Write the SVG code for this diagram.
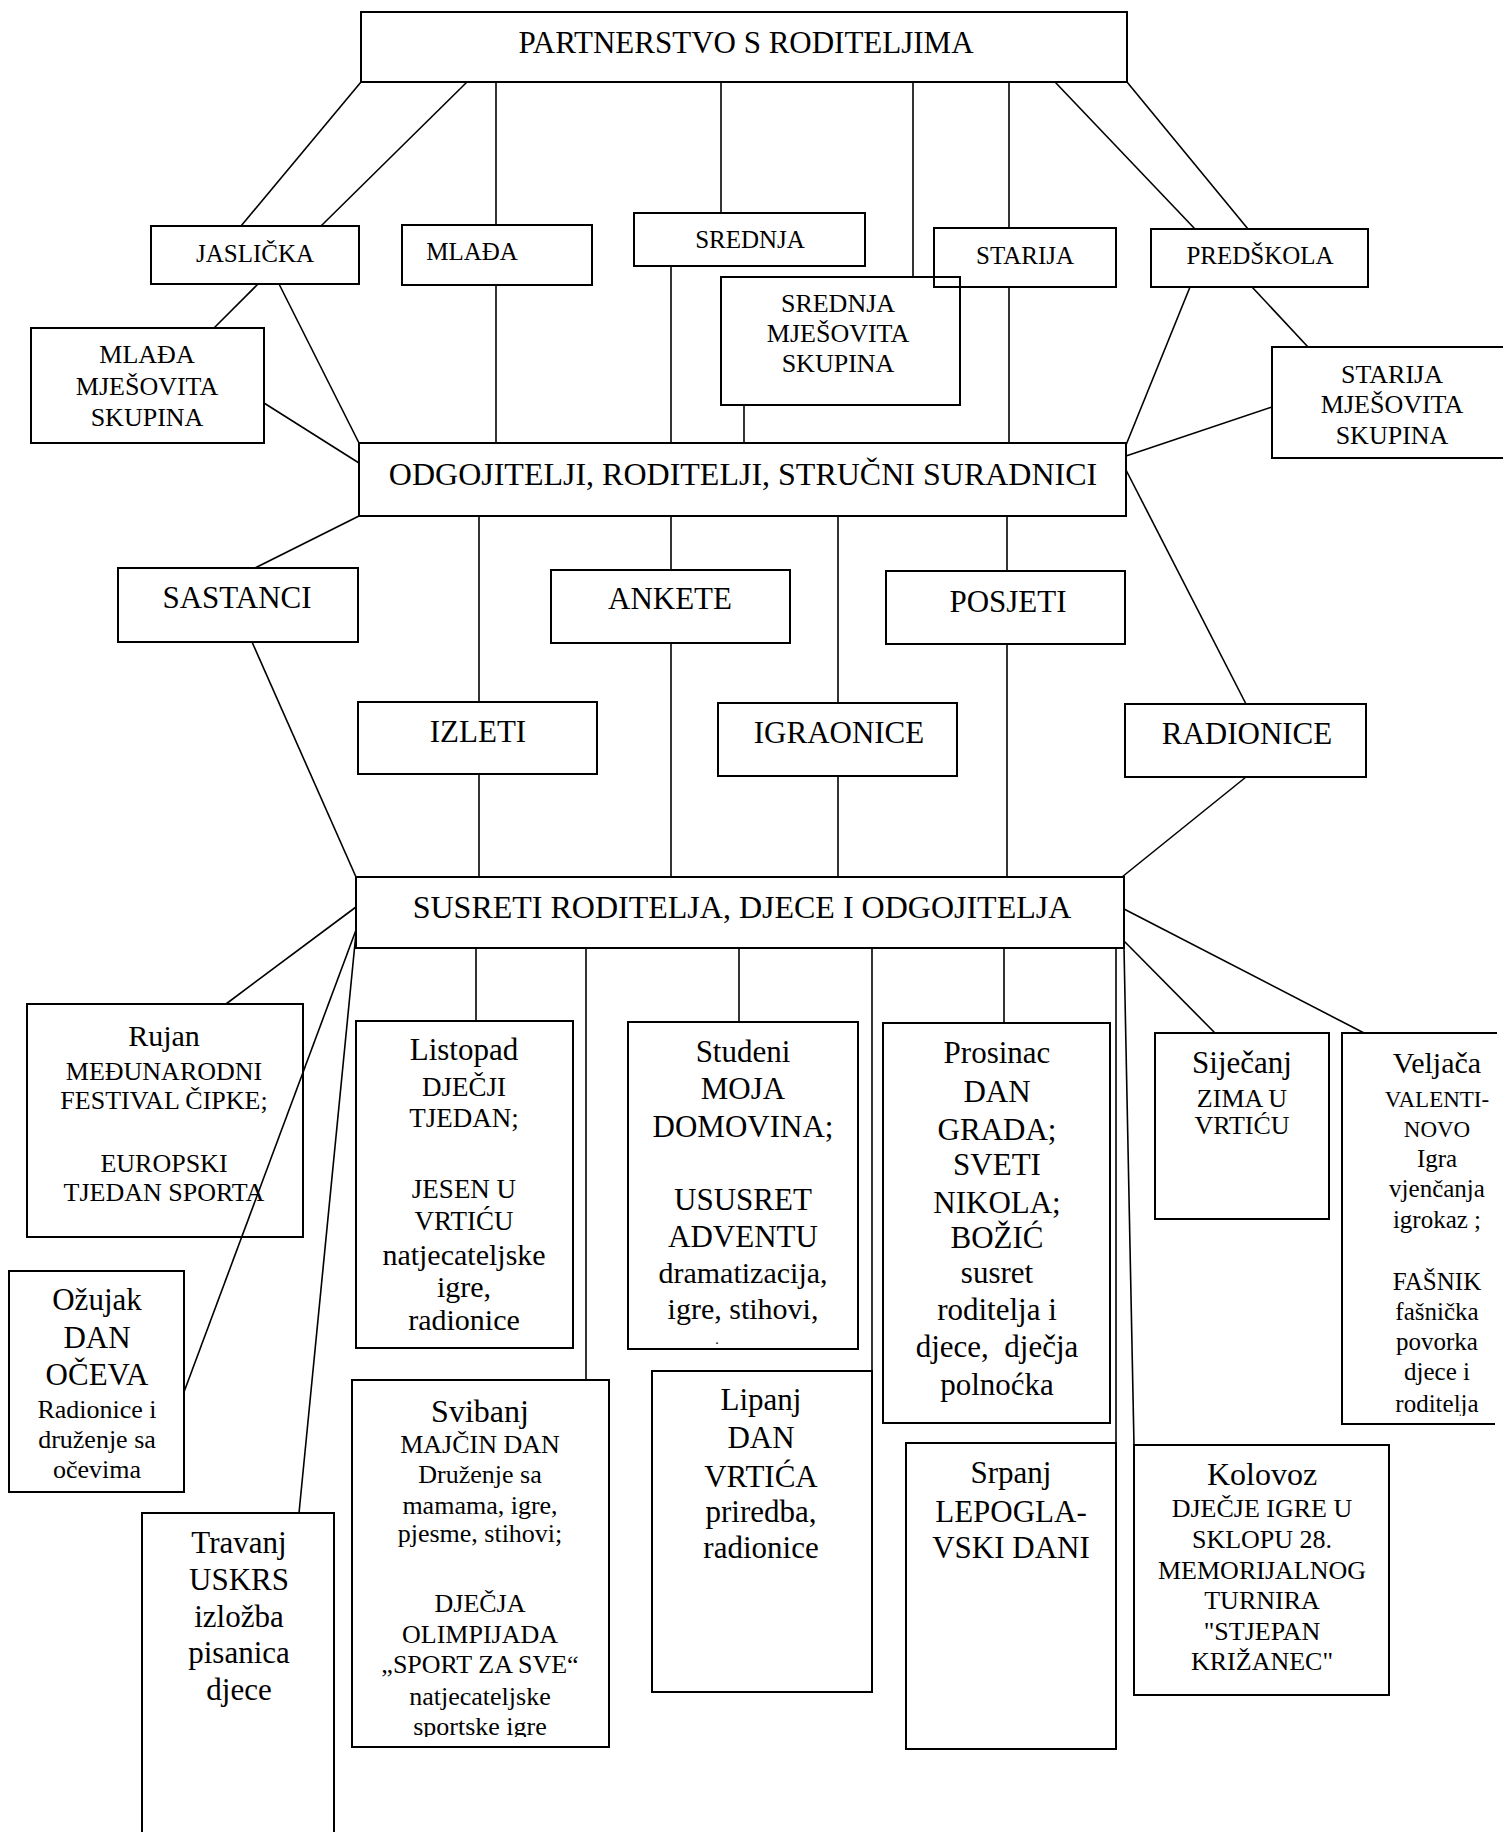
<svg xmlns="http://www.w3.org/2000/svg" width="1508" height="1832" viewBox="0 0 1508 1832">
<style>
.box{fill:none;stroke:#000;stroke-width:2}
.ln{fill:none;stroke:#000;stroke-width:1.6}
text{font-family:"Liberation Serif","Times New Roman",serif;fill:#000;text-anchor:middle}
.f14{font-size:14px}.f23{font-size:23px}.f25{font-size:25px}.f26{font-size:26px}.f27{font-size:27px}.f30{font-size:30px}.f31{font-size:31px}.f32{font-size:32px}
</style>
<defs>
<clipPath id="clipSvibanj"><rect x="352" y="1380" width="257" height="357"/></clipPath>
<clipPath id="clipVeljaca"><rect x="1342" y="1033" width="166" height="383"/></clipPath>
</defs>
<rect width="1508" height="1832" fill="#fff"/>

<g id="n-partnerstvo"><rect class="box" x="361" y="12" width="766" height="70"/><text class="f31" x="746" y="53">PARTNERSTVO S RODITELJIMA</text></g>
<g id="n-jaslicka"><rect class="box" x="151" y="226" width="208" height="58"/><text class="f25" x="255" y="262">JASLIČKA</text></g>
<g id="n-mlada"><rect class="box" x="402" y="225" width="190" height="60"/><text class="f25" x="472" y="260">MLAĐA</text></g>
<g id="n-srednja"><rect class="box" x="634" y="213" width="231" height="53"/><text class="f25" x="750" y="248">SREDNJA</text></g>
<g id="n-starija"><rect class="box" x="934" y="228" width="182" height="59"/><text class="f25" x="1025" y="264">STARIJA</text></g>
<g id="n-predskola"><rect class="box" x="1151" y="229" width="217" height="58"/><text class="f25" x="1260" y="264">PREDŠKOLA</text></g>
<g id="n-srednja-mjesovita"><rect class="box" x="721" y="277" width="239" height="128"/><text class="f26" x="838"><tspan x="838" y="312">SREDNJA</tspan><tspan x="838" y="342">MJEŠOVITA</tspan><tspan x="838" y="372">SKUPINA</tspan></text></g>
<g id="n-mlada-mjesovita"><rect class="box" x="31" y="328" width="233" height="115"/><text class="f26" x="147"><tspan x="147" y="363">MLAĐA</tspan><tspan x="147" y="395">MJEŠOVITA</tspan><tspan x="147" y="426">SKUPINA</tspan></text></g>
<g id="n-starija-mjesovita"><path class="box" d="M1503,347 H1272 V458 H1503"/><text class="f26" x="1392"><tspan x="1392" y="383">STARIJA</tspan><tspan x="1392" y="413">MJEŠOVITA</tspan><tspan x="1392" y="444">SKUPINA</tspan></text></g>

<g id="n-odgojitelji"><rect class="box" x="359" y="443" width="767" height="73"/><text class="f32" x="743" y="485">ODGOJITELJI, RODITELJI, STRUČNI SURADNICI</text></g>
<g id="n-sastanci"><rect class="box" x="118" y="568" width="240" height="74"/><text class="f31" x="237" y="608">SASTANCI</text></g>
<g id="n-ankete"><rect class="box" x="551" y="570" width="239" height="73"/><text class="f31" x="670" y="609">ANKETE</text></g>
<g id="n-posjeti"><rect class="box" x="886" y="571" width="239" height="73"/><text class="f31" x="1008" y="612">POSJETI</text></g>
<g id="n-izleti"><rect class="box" x="358" y="702" width="239" height="72"/><text class="f31" x="478" y="742">IZLETI</text></g>
<g id="n-igraonice"><rect class="box" x="718" y="703" width="239" height="73"/><text class="f31" x="839" y="743">IGRAONICE</text></g>
<g id="n-radionice"><rect class="box" x="1125" y="704" width="241" height="73"/><text class="f31" x="1247" y="744">RADIONICE</text></g>
<g id="n-susreti"><rect class="box" x="356" y="877" width="768" height="71"/><text class="f32" x="742" y="918">SUSRETI RODITELJA, DJECE I ODGOJITELJA</text></g>

<g id="n-rujan"><rect class="box" x="27" y="1004" width="276" height="233"/><text x="164"><tspan class="f30" x="164" y="1046">Rujan</tspan><tspan class="f26" x="164" y="1080">MEĐUNARODNI</tspan><tspan class="f26" x="164" y="1109">FESTIVAL ČIPKE;</tspan><tspan class="f26" x="164" y="1172">EUROPSKI</tspan><tspan class="f26" x="164" y="1201">TJEDAN SPORTA</tspan></text></g>
<g id="n-ozujak"><rect class="box" x="9" y="1271" width="175" height="221"/><text x="97"><tspan class="f31" x="97" y="1310">Ožujak</tspan><tspan class="f31" x="97" y="1348">DAN</tspan><tspan class="f31" x="97" y="1385">OČEVA</tspan><tspan class="f26" x="97" y="1418">Radionice i</tspan><tspan class="f26" x="97" y="1448">druženje sa</tspan><tspan class="f26" x="97" y="1478">očevima</tspan></text></g>
<g id="n-travanj"><path class="box" d="M142,1840 V1513 H334 V1840"/><text class="f31" x="239"><tspan x="239" y="1553">Travanj</tspan><tspan x="239" y="1590">USKRS</tspan><tspan x="239" y="1627">izložba</tspan><tspan x="239" y="1663">pisanica</tspan><tspan x="239" y="1700">djece</tspan></text></g>
<g id="n-listopad"><rect class="box" x="356" y="1021" width="217" height="327"/><text x="464"><tspan class="f31" x="464" y="1060">Listopad</tspan><tspan class="f27" x="464" y="1096">DJEČJI</tspan><tspan class="f27" x="464" y="1127">TJEDAN;</tspan><tspan class="f27" x="464" y="1198">JESEN U</tspan><tspan class="f27" x="464" y="1230">VRTIĆU</tspan><tspan class="f30" x="464" y="1265">natjecateljske</tspan><tspan class="f30" x="464" y="1297">igre,</tspan><tspan class="f30" x="464" y="1330">radionice</tspan></text></g>
<g id="n-svibanj"><rect class="box" x="352" y="1380" width="257" height="367"/><text x="480" clip-path="url(#clipSvibanj)"><tspan class="f32" x="480" y="1422">Svibanj</tspan><tspan class="f26" x="480" y="1453">MAJČIN DAN</tspan><tspan class="f26" x="480" y="1483">Druženje sa</tspan><tspan class="f26" x="480" y="1514">mamama, igre,</tspan><tspan class="f26" x="480" y="1542">pjesme, stihovi;</tspan><tspan class="f26" x="480" y="1612">DJEČJA</tspan><tspan class="f26" x="480" y="1643">OLIMPIJADA</tspan><tspan class="f26" x="480" y="1673">„SPORT ZA SVE“</tspan><tspan class="f26" x="480" y="1705">natjecateljske</tspan><tspan class="f26" x="480" y="1735">sportske igre</tspan></text></g>
<g id="n-studeni"><rect class="box" x="628" y="1022" width="230" height="327"/><text x="743"><tspan class="f31" x="743" y="1062">Studeni</tspan><tspan class="f31" x="743" y="1099">MOJA</tspan><tspan class="f31" x="743" y="1137">DOMOVINA;</tspan><tspan class="f31" x="743" y="1210">USUSRET</tspan><tspan class="f31" x="743" y="1247">ADVENTU</tspan><tspan class="f30" x="743" y="1283">dramatizacija,</tspan><tspan class="f30" x="743" y="1319">igre, stihovi,</tspan></text><text class="f14" x="717" y="1344">.</text></g>
<g id="n-lipanj"><rect class="box" x="652" y="1371" width="220" height="321"/><text class="f31" x="761"><tspan x="761" y="1410">Lipanj</tspan><tspan x="761" y="1448">DAN</tspan><tspan x="761" y="1487">VRTIĆA</tspan><tspan x="761" y="1522">priredba,</tspan><tspan x="761" y="1558">radionice</tspan></text></g>
<g id="n-prosinac"><rect class="box" x="883" y="1023" width="227" height="400"/><text class="f31" x="997" xml:space="preserve"><tspan x="997" y="1063">Prosinac</tspan><tspan x="997" y="1102">DAN</tspan><tspan x="997" y="1140">GRADA;</tspan><tspan x="997" y="1175">SVETI</tspan><tspan x="997" y="1213">NIKOLA;</tspan><tspan x="997" y="1248">BOŽIĆ</tspan><tspan x="997" y="1283">susret</tspan><tspan x="997" y="1320">roditelja i</tspan><tspan x="997" y="1357">djece,  dječja</tspan><tspan x="997" y="1395">polnoćka</tspan></text></g>
<g id="n-srpanj"><rect class="box" x="906" y="1443" width="210" height="306"/><text class="f31" x="1011"><tspan x="1011" y="1483">Srpanj</tspan><tspan x="1011" y="1522">LEPOGLA-</tspan><tspan x="1011" y="1558">VSKI DANI</tspan></text></g>
<g id="n-sijecanj"><rect class="box" x="1155" y="1033" width="174" height="186"/><text x="1242"><tspan class="f31" x="1242" y="1073">Siječanj</tspan><tspan class="f26" x="1242" y="1107">ZIMA U</tspan><tspan class="f26" x="1242" y="1134">VRTIĆU</tspan></text></g>
<g id="n-veljaca"><path class="box" d="M1497,1033 H1342 V1424 H1495"/><text x="1437" clip-path="url(#clipVeljaca)"><tspan class="f30" x="1437" y="1073">Veljača</tspan><tspan class="f23" x="1437" y="1107">VALENTI-</tspan><tspan class="f23" x="1437" y="1137">NOVO</tspan><tspan class="f25" x="1437" y="1167">Igra</tspan><tspan class="f25" x="1437" y="1197">vjenčanja</tspan><tspan class="f25" x="1437" y="1228">igrokaz ;</tspan><tspan class="f25" x="1437" y="1290">FAŠNIK</tspan><tspan class="f25" x="1437" y="1320">fašnička</tspan><tspan class="f25" x="1437" y="1350">povorka</tspan><tspan class="f25" x="1437" y="1380">djece i</tspan><tspan class="f25" x="1437" y="1412">roditelja</tspan></text></g>
<g id="n-kolovoz"><rect class="box" x="1134" y="1445" width="255" height="250"/><text x="1262"><tspan class="f32" x="1262" y="1485">Kolovoz</tspan><tspan class="f26" x="1262" y="1517">DJEČJE IGRE U</tspan><tspan class="f26" x="1262" y="1548">SKLOPU 28.</tspan><tspan class="f26" x="1262" y="1579">MEMORIJALNOG</tspan><tspan class="f26" x="1262" y="1609">TURNIRA</tspan><tspan class="f26" x="1262" y="1640">"STJEPAN</tspan><tspan class="f26" x="1262" y="1670">KRIŽANEC"</tspan></text></g>

<g id="connectors" class="ln">
<line x1="361" y1="82" x2="241" y2="226"/>
<line x1="467" y1="82" x2="321" y2="226"/>
<line x1="496" y1="82" x2="496" y2="225"/>
<line x1="721" y1="82" x2="721" y2="213"/>
<line x1="913" y1="82" x2="913" y2="277"/>
<line x1="1009" y1="82" x2="1009" y2="228"/>
<line x1="1055" y1="82" x2="1195" y2="229"/>
<line x1="1127" y1="82" x2="1248" y2="229"/>
<line x1="258" y1="284" x2="214" y2="328"/>
<line x1="279" y1="284" x2="359" y2="443"/>
<line x1="264" y1="403" x2="359" y2="463"/>
<line x1="496" y1="285" x2="496" y2="443"/>
<line x1="671" y1="266" x2="671" y2="443"/>
<line x1="744" y1="405" x2="744" y2="443"/>
<line x1="1009" y1="287" x2="1009" y2="443"/>
<line x1="1190" y1="287" x2="1126" y2="445"/>
<line x1="1252" y1="287" x2="1308" y2="347"/>
<line x1="1272" y1="407" x2="1126" y2="456"/>
<line x1="359" y1="516" x2="255" y2="568"/>
<line x1="479" y1="516" x2="479" y2="702"/>
<line x1="671" y1="516" x2="671" y2="570"/>
<line x1="838" y1="516" x2="838" y2="703"/>
<line x1="1007" y1="516" x2="1007" y2="571"/>
<line x1="1126" y1="470" x2="1246" y2="704"/>
<line x1="252" y1="642" x2="356" y2="877"/>
<line x1="479" y1="774" x2="479" y2="877"/>
<line x1="671" y1="643" x2="671" y2="877"/>
<line x1="838" y1="776" x2="838" y2="877"/>
<line x1="1007" y1="644" x2="1007" y2="877"/>
<line x1="1246" y1="777" x2="1122" y2="877"/>
<line x1="356" y1="907" x2="226" y2="1004"/>
<line x1="356" y1="930" x2="184" y2="1392"/>
<line x1="356" y1="933" x2="299" y2="1513"/>
<line x1="476" y1="948" x2="476" y2="1021"/>
<line x1="586" y1="948" x2="586" y2="1380"/>
<line x1="739" y1="948" x2="739" y2="1022"/>
<line x1="872" y1="948" x2="872" y2="1371"/>
<line x1="1004" y1="948" x2="1004" y2="1023"/>
<line x1="1116" y1="948" x2="1116" y2="1443"/>
<line x1="1124" y1="948" x2="1134" y2="1445"/>
<line x1="1124" y1="941" x2="1215" y2="1033"/>
<line x1="1124" y1="909" x2="1364" y2="1033"/>
</g>
</svg>
